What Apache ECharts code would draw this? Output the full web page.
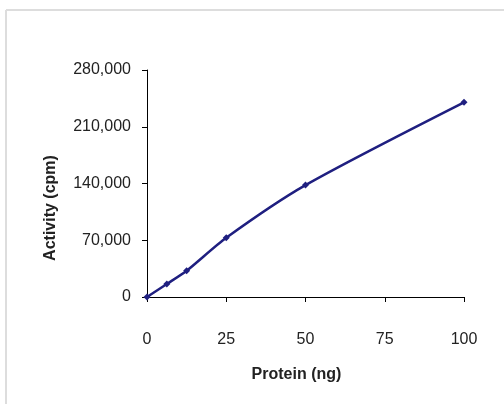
<!DOCTYPE html>
<html>
<head>
<meta charset="utf-8">
<script src="https://cdn.jsdelivr.net/npm/echarts@6/dist/echarts.min.js"></script>
<style>
html,body{margin:0;padding:0;background:#fff;}
#chart{width:504px;height:404px;}
</style>
</head>
<body>
<div id="chart"></div>
<script>
const proteinNg = [0, 6.25, 12.5, 25, 50, 100];
const activityCpm = [0, 16000, 32400, 73100, 138000, 240100];
const xTicks = [0, 25, 50, 75, 100];
const yTicks = [0, 70000, 140000, 210000, 280000];
const xAxisTitle = 'Protein (ng)';
const yAxisTitle = 'Activity (cpm)';

const chart = echarts.init(document.getElementById('chart'), null, {renderer: 'canvas'});
const fam = '"Liberation Sans", Arial, sans-serif';
chart.setOption({
  animation: false,
  backgroundColor: '#fff',
  grid: {left: 147, right: 40, top: 70, bottom: 107},
  graphic: [
    {type: 'line', shape: {x1: 6, y1: 10, x2: 504, y2: 10}, style: {stroke: '#dddddd', lineWidth: 2}},
    {type: 'line', shape: {x1: 6, y1: 10, x2: 6, y2: 404}, style: {stroke: '#dddddd', lineWidth: 2}},
    {type: 'text', x: 51, y: 208, rotation: Math.PI / 2,
     style: {text: yAxisTitle, fill: '#222', font: 'bold 16px "Liberation Sans", Arial, sans-serif',
             textAlign: 'center', textVerticalAlign: 'middle'}}
  ],
  xAxis: {
    type: 'value', min: xTicks[0], max: xTicks[xTicks.length - 1], interval: 25,
    name: xAxisTitle, nameLocation: 'middle', nameGap: 70,
    nameTextStyle: {fontFamily: fam, fontWeight: 'bold', fontSize: 16, color: '#222', padding: [0, 18, 0, 0]},
    axisLine: {show: true, lineStyle: {color: '#000', width: 1}},
    axisTick: {show: true, inside: false, length: 5, lineStyle: {color: '#000'}},
    axisLabel: {margin: 35, fontFamily: fam, fontSize: 16, color: '#222'},
    splitLine: {show: false}
  },
  yAxis: {
    type: 'value', min: yTicks[0], max: yTicks[yTicks.length - 1], interval: 70000,
    axisLine: {show: true, lineStyle: {color: '#000', width: 1}},
    axisTick: {show: true, inside: false, length: 5, lineStyle: {color: '#000'}},
    axisLabel: {margin: 16, fontFamily: fam, fontSize: 16, color: '#222',
      formatter: v => v.toLocaleString('en-US')},
    splitLine: {show: false}
  },
  series: [{
    type: 'line',
    data: proteinNg.map((x, i) => [x, activityCpm[i]]),
    smooth: 0.25,
    symbol: 'diamond', symbolSize: 7,
    itemStyle: {color: '#1f1f80'},
    lineStyle: {color: '#1f1f80', width: 2.5}
  }]
});
</script>
</body>
</html>
